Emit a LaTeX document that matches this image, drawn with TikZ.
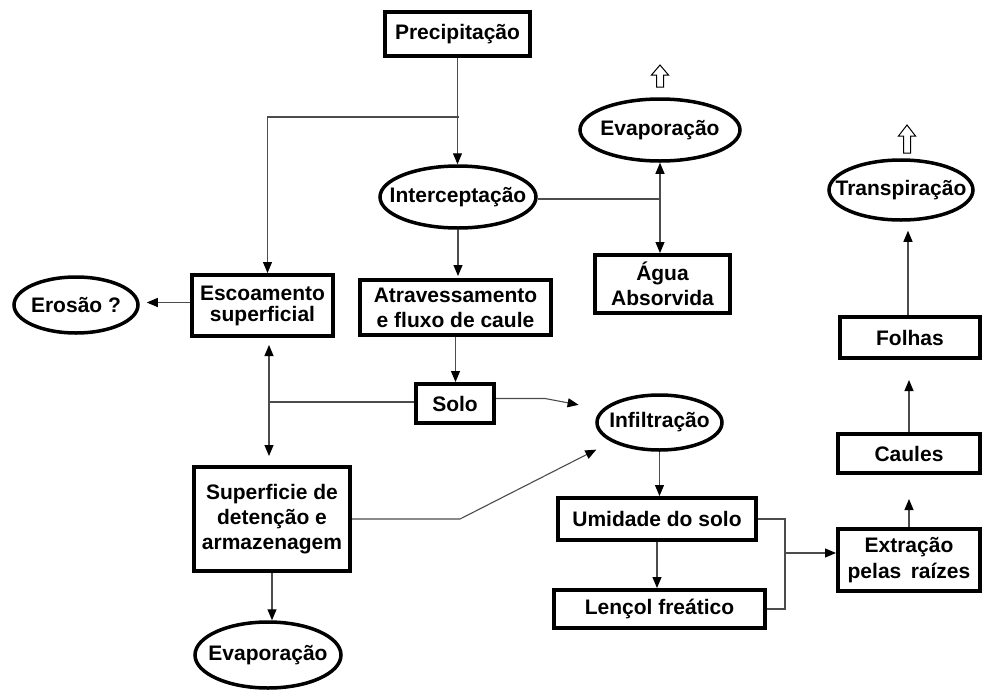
\documentclass[tikz,border=0pt]{standalone}
\usepackage{fontspec}
\setmainfont{Liberation Sans}
\usetikzlibrary{arrows.meta,shapes.geometric,calc}
\begin{document}
\begin{tikzpicture}[x=1pt,y=-1pt,
  font=\fontsize{21}{25}\selectfont\bfseries,
  box/.style={draw,line width=4pt,inner sep=0pt,align=center},
  ell/.style={draw,ellipse,line width=3.5pt,inner sep=0pt},
  conn/.style={draw=black!70,line width=1.1pt},
  tip/.style={-{Triangle[length=11pt,width=9pt,color=black]}},
  arr/.style={conn,tip},
  barr/.style={conn,{Triangle[length=11pt,width=9pt,color=black]}-{Triangle[length=11pt,width=9pt,color=black]}},
  hollow/.style={draw=black,line width=1pt,fill=white,line join=miter}
]
\useasboundingbox[fill=white] (0,0) rectangle (989,691);

% boxes
\node[box,minimum width=145pt,minimum height=44pt] (prec) at (457.5,34) {Precipitação};
\node[box,minimum width=135pt,minimum height=58pt] (agua) at (662.5,284) {Água\\Absorvida};
\node[box,minimum width=141pt,minimum height=61pt] (esco) at (262.5,305.5) {Escoamento\\[-4pt]superficial};
\node[box,minimum width=191pt,minimum height=55pt] (atrav) at (455.5,307.5) {Atravessamento\\e fluxo de caule};
\node[box,minimum width=78pt,minimum height=39pt] (solo) at (455,403.5) {Solo};
\node[box,minimum width=156pt,minimum height=104pt] (super) at (272,519) {Superficie de\\detenção e\\armazenagem};
\node[box,minimum width=198pt,minimum height=42pt] (umid) at (657,519) {Umidade do solo};
\node[box,minimum width=211pt,minimum height=38pt] (lencol) at (659.5,609) {Lençol freático};
\node[box,minimum width=140pt,minimum height=41pt] (folhas) at (910,337.5) {Folhas};
\node[box,minimum width=142pt,minimum height=39pt] (caules) at (909,453.5) {Caules};
\node[box,minimum width=142pt,minimum height=62pt] (extr) at (909,560) {Extração\\[1pt]pelas\hspace{0.45em}raízes};

% ellipses
\node[ell,minimum width=156pt,minimum height=62pt] (inter) at (458,197) {\makebox[0pt]{Interceptação}};
\node[ell,minimum width=160pt,minimum height=62pt] (evap1) at (660,130) {\makebox[0pt]{Evaporação}};
\node[ell,minimum width=144pt,minimum height=60pt] (transp) at (901,190) {\makebox[0pt]{Transpiração}};
\node[ell,minimum width=124pt,minimum height=56pt] (erosao) at (76,305) {\makebox[0pt]{Erosão ?}};
\node[ell,minimum width=125pt,minimum height=55pt] (infil) at (659.5,422.5) {\makebox[0pt]{Infiltração}};
\node[ell,minimum width=146pt,minimum height=66pt] (evap2) at (268,655) {\makebox[0pt]{Evaporação}};

% junction coordinates
\coordinate (j1) at (459,117);
\coordinate (j2) at (269,402);
\coordinate (j3) at (460,519);
\coordinate (j4) at (545,398.5);
\coordinate (k) at (785,553);
\coordinate (h1) at (660,87);
\coordinate (h2) at (907,153);

% connectors
\draw[arr] (prec.south) -- (prec.south |- inter.north);
\draw[arr] (j1) -| ([xshift=5pt]esco.north);
\draw[conn] ([yshift=-2pt]inter.east) -- ([yshift=-2pt]inter.east -| evap1.south);
\draw[barr] (evap1.south) -- (evap1.south |- agua.north);
\draw[arr] (inter.south) -- ([yshift=2pt]inter.south |- atrav.north);
\draw[arr] (atrav.south) -- (atrav.south |- solo.north);
\draw[arr,shorten >=7pt] ([yshift=3pt]esco.west) -- ([yshift=3pt]esco.west -| erosao.east);
\draw[barr,shorten <=7pt,shorten >=9pt] ([xshift=6.5pt]esco.south) -- ([xshift=-3pt]super.north);
\draw[conn] (j2) -- (j2 -| solo.west);
\draw[arr,shorten >=24pt] ([yshift=5pt]solo.east) -- (j4) -- (infil.167);
\draw[arr,shorten >=17pt] (super.east) -- (j3) -- (infil.202);
\draw[arr] (super.south) -- (super.south |- evap2.north);
\draw[arr] (infil.south) -- (infil.south |- umid.north);
\draw[arr] (umid.south) -- (umid.south |- lencol.north);
\draw[conn] (umid.east) -| (k) |- (lencol.east);
\draw[arr] (k) -- (k -| extr.west);
\draw[arr,shorten >=24pt] (extr.north) -- (extr.north |- caules.south);
\draw[arr,shorten >=20pt] (caules.north) -- (caules.north |- folhas.south);
\draw[arr,shorten >=9pt] ([xshift=-2pt]folhas.north) -- ([xshift=-2pt]folhas.north |- transp.south);

% hollow arrows
\draw[hollow] (h1) -- ++(-3.5,0) -- ++(0,-12) -- ++(-5,0) -- ++(8.5,-10) -- ++(8.5,10) -- ++(-5,0) -- ++(0,12) -- cycle;
\draw[hollow] (h2) -- ++(-3.5,0) -- ++(0,-17) -- ++(-5,0) -- ++(8.5,-11) -- ++(8.5,11) -- ++(-5,0) -- ++(0,17) -- cycle;
\end{tikzpicture}
\end{document}
